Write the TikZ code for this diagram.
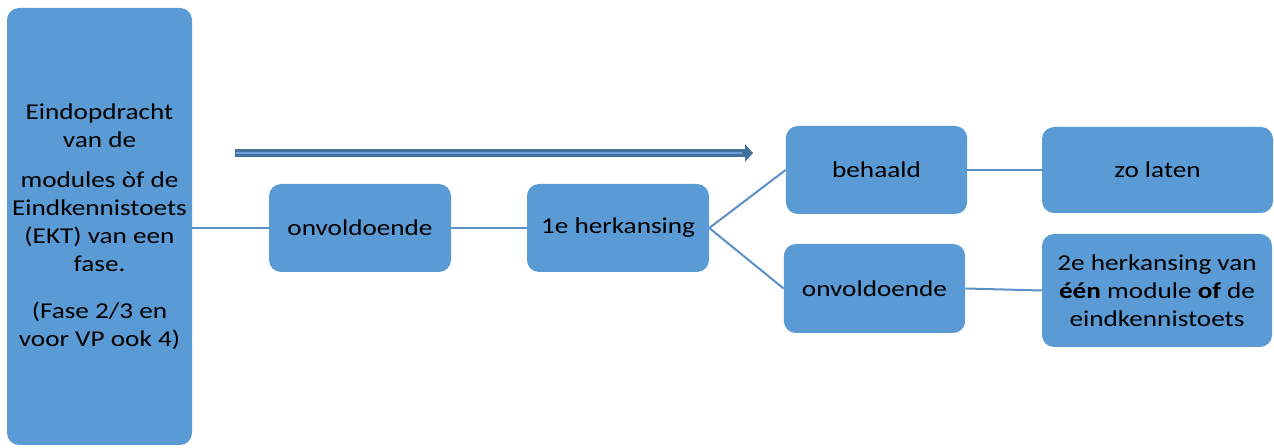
\documentclass[tikz,border=0pt]{standalone}
\usepackage{fontspec}
\setmainfont{Carlito}[FakeStretch=1.2]
\usetikzlibrary{arrows.meta}
\definecolor{boxblue}{HTML}{5B9BD5}
\definecolor{lineblue}{HTML}{5A8FC8}
\definecolor{pijldonker}{HTML}{41719C}
\definecolor{pijllicht}{HTML}{6A9FD8}
\begin{document}
\begin{tikzpicture}[x=0.75pt, y=-0.75pt, font=\fontsize{17}{21}\selectfont, line join=round, line cap=round,
	blok/.style={fill=boxblue, rounded corners=9pt, align=center, inner sep=0pt},
	lijn/.style={draw=lineblue, line width=1.5pt, line cap=butt}]
	\useasboundingbox (0,0) rectangle (1274,448);
	% blokken
	\node[blok, minimum width=138.75pt, minimum height=327.75pt] (fase) at (99.5,226.5)
		{Eindopdracht\\ van de\\[9pt] modules òf de\\ Eindkennistoets\\ (EKT) van een\\ fase.\\[14pt] (Fase 2/3 en\\ voor VP ook 4)};
	\node[blok, minimum width=136.5pt, minimum height=66pt] (onv1) at (360,228) {onvoldoende};
	\node[blok, minimum width=136.5pt, minimum height=66pt] (her1) at (618,228) {1e herkansing};
	\node[blok, minimum width=136pt, minimum height=66pt] (beh) at (876.5,170) {behaald};
	\node[blok, minimum width=136pt, minimum height=66.75pt] (onv2) at (874.5,288.5) {onvoldoende};
	\node[blok, minimum width=173.25pt, minimum height=64.5pt] (laten) at (1157.5,170) {zo laten};
	\node[blok, minimum width=172.5pt, minimum height=84.75pt] (her2) at (1157,290.5)
		{2e herkansing van\\ \textbf{één} module \textbf{of} de\\ eindkennistoets};
	% verbindingen
	\draw[lijn] (fase.east |- onv1) -- (onv1.west);
	\draw[lijn] (onv1.east) -- (her1.west);
	\draw[lijn] (her1.east) -- (beh.west);
	\draw[lijn] (her1.east) -- (onv2.west);
	\draw[lijn] (beh.east) -- (laten.west);
	\draw[lijn] (onv2.east) -- (her2.west);
	% pijl
	\coordinate (pijlA) at (235,153);
	\coordinate (pijlB) at (753,153);
	\draw[pijldonker, line width=5.5pt, line cap=butt, -{Triangle[length=6pt, width=13pt]}] (pijlA) -- (pijlB);
	\draw[pijllicht, line width=2pt, line cap=butt] ([xshift=1pt]pijlA) -- ([xshift=-8pt]pijlB);
\end{tikzpicture}
\end{document}
